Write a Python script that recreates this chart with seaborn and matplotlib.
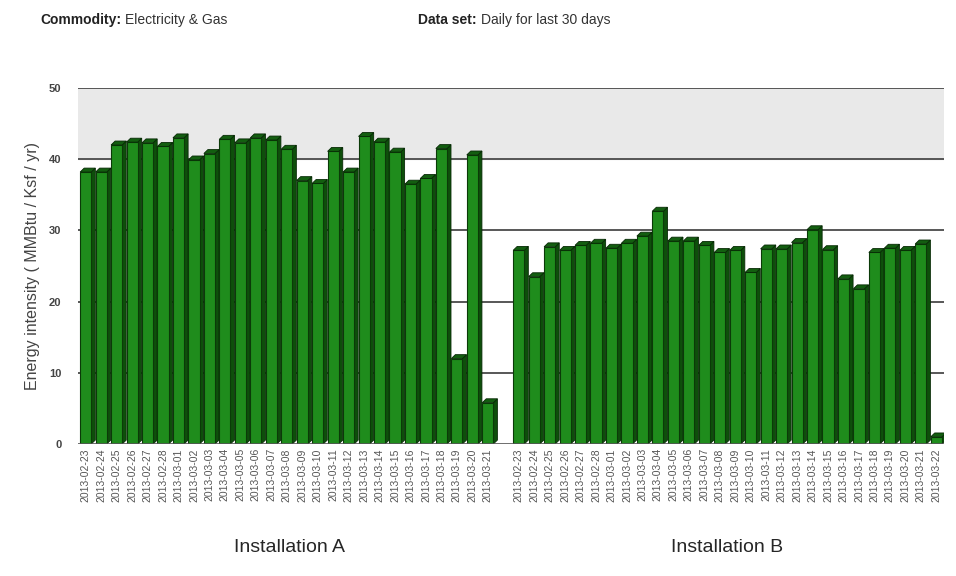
import pandas as pd
import matplotlib
matplotlib.use("Agg")
import matplotlib.pyplot as plt
import seaborn as sns
from matplotlib.patches import Polygon

# dates for each installation
dates_a = ["2013-02-23", "2013-02-24", "2013-02-25", "2013-02-26", "2013-02-27", "2013-02-28",
           "2013-03-01", "2013-03-02", "2013-03-03", "2013-03-04", "2013-03-05", "2013-03-06",
           "2013-03-07", "2013-03-08", "2013-03-09", "2013-03-10", "2013-03-11", "2013-03-12",
           "2013-03-13", "2013-03-14", "2013-03-15", "2013-03-16", "2013-03-17", "2013-03-18",
           "2013-03-19", "2013-03-20", "2013-03-21"]
dates_b = dates_a[:] + ["2013-03-22"]

# energy intensity values
values_a = [38.2, 38.2, 42.0, 42.4, 42.3, 41.8, 43.0, 39.9, 40.8, 42.8, 42.3, 43.0, 42.7, 41.4,
            37.0, 36.6, 41.1, 38.2, 43.2, 42.4, 41.0, 36.5, 37.3, 41.5, 12.0, 40.6, 5.8]
values_b = [27.2, 23.5, 27.7, 27.2, 27.9, 28.2, 27.5, 28.2, 29.2, 32.7, 28.5, 28.5, 27.9, 26.9,
            27.2, 24.1, 27.4, 27.4, 28.3, 30.1, 27.3, 23.2, 21.8, 26.9, 27.5, 27.2, 28.1, 1.0]

group_names = ["Installation A", "Installation B"]

df = pd.DataFrame({
    "group": [group_names[0]] * len(dates_a) + [group_names[1]] * len(dates_b),
    "date": dates_a + dates_b,
    "value": values_a + values_b,
})
df["slot"] = df["group"] + " " + df["date"]
order = list(df["slot"][:len(dates_a)]) + ["gap"] + list(df["slot"][len(dates_a):])

sns.set_style("white")
plt.rcParams["font.family"] = ["Liberation Sans", "DejaVu Sans"]

fig = plt.figure(figsize=(9.56, 5.76), dpi=100)
ax = fig.add_axes([78 / 956, 1 - 444 / 576, (944 - 78) / 956, (444 - 88) / 576])

ax.axhspan(40, 50, color="#e9e9e9", zorder=0)
for yv in [10, 20, 30, 40, 50]:
    ax.axhline(yv, color="#4a4a4a", lw=1.3, zorder=1)

n_before = len(ax.patches)
sns.barplot(data=df, x="slot", y="value", order=order, color="#1f8c1c",
            width=0.72, saturation=1, edgecolor="#0b3a08", linewidth=0.8, ax=ax, zorder=3)
bars = list(ax.patches)[n_before:]

# fake 3d depth: side and top faces from each drawn bar
dx, dy = 0.26, 0.55
for p in bars:
    x0, w, h = p.get_x(), p.get_width(), p.get_height()
    if not h > 0:
        continue
    side = Polygon([(x0 + w, 0), (x0 + w + dx, dy), (x0 + w + dx, h + dy), (x0 + w, h)],
                   closed=True, facecolor="#0e4f0b", edgecolor="#072a05", lw=0.6, zorder=2.9)
    top = Polygon([(x0, h), (x0 + dx, h + dy), (x0 + w + dx, h + dy), (x0 + w, h)],
                  closed=True, facecolor="#135e10", edgecolor="#072a05", lw=0.6, zorder=3.1)
    ax.add_patch(side)
    ax.add_patch(top)

ax.set_ylim(0, 50)
ax.set_xlim(-0.5, len(order) - 0.5)
ax.set_yticks([0, 10, 20, 30, 40, 50])
ax.set_yticklabels(["0", "10", "20", "30", "40", "50"], fontsize=8, fontweight="bold", color="#444444")
labels = [s.split(" ")[-1] if s != "gap" else "" for s in order]
ax.set_xticks(range(len(order)))
ax.set_xticklabels(labels, rotation=90, fontsize=7.5, color="#555555")
ax.tick_params(axis="x", length=0, pad=3)
ax.tick_params(axis="y", length=8, color="#444444", width=1.2, pad=4)
for s in ["top", "right", "bottom", "left"]:
    ax.spines[s].set_visible(False)
ax.axhline(0, color="#555555", lw=1.2, zorder=4)
ax.set_xlabel("")
ax.set_ylabel("Energy intensity ( MMBtu / Ksf / yr)", fontsize=11.5, color="#444444", labelpad=6)

fig.text(290 / 956, 1 - 548 / 576, group_names[0], ha="center", va="center", fontsize=14)
fig.text(727 / 956, 1 - 548 / 576, group_names[1], ha="center", va="center", fontsize=14)

# header: bold key followed by its value
for xpos, key, val in [(40, "Commodity:", "Electricity & Gas"), (418, "Data set:", "Daily for last 30 days")]:
    t = fig.text(xpos / 956, 1 - 20 / 576, key, fontsize=10, fontweight="bold", va="center", color="#222222")
    ax.annotate(val, xy=(1, 0.5), xycoords=t, xytext=(3, 0), textcoords="offset points",
                fontsize=10, va="center", ha="left", color="#333333", annotation_clip=False)

fig.savefig("out.png", dpi=100)
